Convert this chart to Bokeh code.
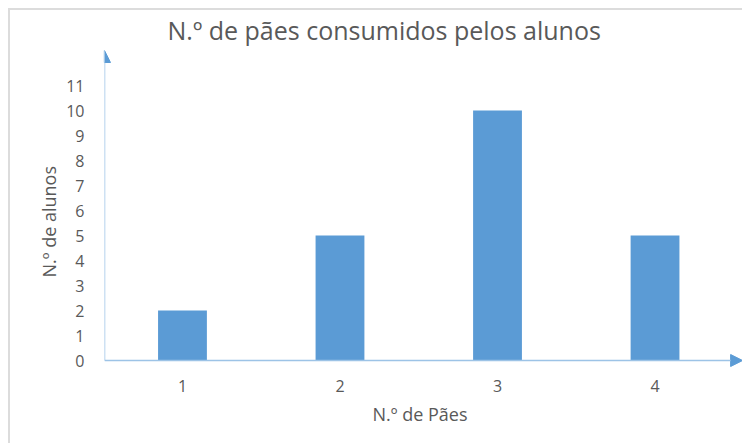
from bokeh.plotting import figure
from bokeh.models import (FixedTicker, Arrow, NormalHead, Title, ColumnDataSource, Range1d)
from bokeh.embed import file_html
from bokeh.resources import INLINE

# Data
paes = [1, 2, 3, 4]
alunos = [2, 5, 10, 5]
y_ticks = list(range(0, 12))
title_text = "N.º de pães consumidos pelos alunos"
x_label = "N.º de Pães"
y_label = "N.º de alunos"

BAR = "#5B9BD5"
AXIS = "#9DC3E6"
TXT = "#595959"
FONT = "Open Sans"

p = figure(width=734, height=435, output_backend="svg", toolbar_location=None,
           x_range=Range1d(0.505, 4.568), y_range=Range1d(-0.32, 12.56),
           min_border_left=94, min_border_right=0, min_border_top=36, min_border_bottom=77)
p.styles = {"border-top": "2px solid #DCDCDC", "border-left": "2px solid #DCDCDC",
            "margin-left": "8px", "margin-top": "8px"}

src = ColumnDataSource(dict(x=paes, top=alunos))
p.vbar(x="x", top="top", width=0.31, bottom=0, source=src, fill_color=BAR, line_color=None)

p.grid.visible = False
p.outline_line_color = None

for ax in (p.xaxis, p.yaxis):
    ax.axis_line_color = None
    ax.major_tick_line_color = None
    ax.minor_tick_line_color = None
    ax.major_label_text_color = TXT
    ax.major_label_text_font = FONT
    ax.major_label_text_font_size = "16px"

p.xaxis.ticker = FixedTicker(ticks=paes)
p.yaxis.ticker = FixedTicker(ticks=y_ticks)
p.xaxis.major_label_standoff = 5
p.yaxis.major_label_standoff = 14

# axes with arrows
p.add_layout(Arrow(end=NormalHead(size=12, fill_color=BAR, line_color=BAR),
                   x_start=0.505, y_start=0, x_end=4.556, y_end=0,
                   line_color=AXIS, line_width=1.5))
p.add_layout(Arrow(end=NormalHead(size=12, fill_color=BAR, line_color=BAR),
                   x_start=0.505, y_start=0, x_end=0.505, y_end=12.4,
                   line_color=AXIS, line_width=1.5))

# title and axis titles
p.title.text = title_text
p.title.align = "left"
p.title.offset = 63
p.title.standoff = 0
p.title.text_color = TXT
p.title.text_font = FONT
p.title.text_font_size = "25px"
p.title.text_font_style = "normal"

p.add_layout(Title(text=x_label, align="left", offset=268, standoff=10, text_color=TXT, text_font=FONT,
                   text_font_size="18px", text_font_style="normal"), "below")
p.add_layout(Title(text=y_label, align="left", offset=91, standoff=5, text_color=TXT, text_font=FONT,
                   text_font_size="18px", text_font_style="normal"), "left")

open("out.html", "w").write(file_html(p, INLINE))
